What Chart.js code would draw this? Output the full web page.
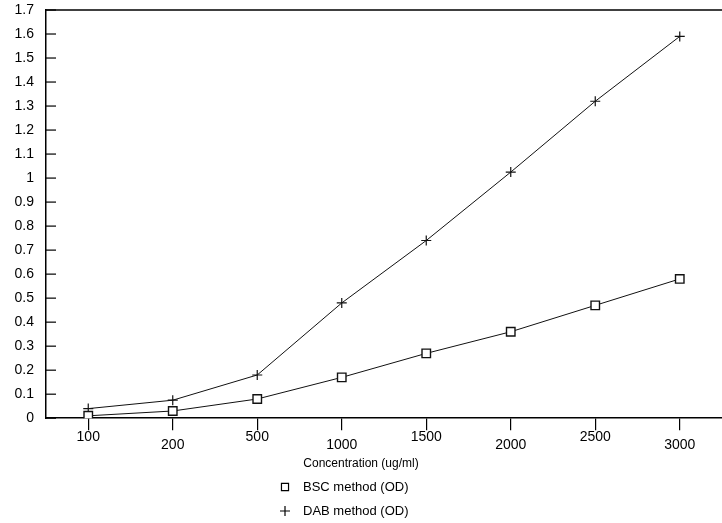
<!DOCTYPE html>
<html>
<head>
<meta charset="utf-8">
<script src="https://cdn.jsdelivr.net/npm/chart.js@4.4.0/dist/chart.umd.min.js"></script>
<style>
  html, body { margin: 0; padding: 0; background: #fff; }
</style>
</head>
<body>
<canvas id="chart" width="722" height="523"></canvas>
<script>
// data
const categories = ["100", "200", "500", "1000", "1500", "2000", "2500", "3000"];
const bscValues = [0.01, 0.03, 0.08, 0.17, 0.27, 0.36, 0.47, 0.58];
const dabValues = [0.04, 0.075, 0.18, 0.48, 0.74, 1.025, 1.32, 1.59];
const seriesLabels = ["BSC method (OD)", "DAB method (OD)"];
const xTitle = "Concentration (ug/ml)";
const yMin = 0, yMax = 1.7, yStep = 0.1;

const FONT = "'Liberation Sans', Arial, Helvetica, sans-serif";

// ticks inside the plot on the y axis + top frame line
const frame = {
  id: "frame",
  afterDraw(chart) {
    const ctx = chart.ctx;
    const area = chart.chartArea;
    const y = chart.scales.y;
    ctx.save();
    ctx.strokeStyle = "#000";
    ctx.lineWidth = 1.5;
    ctx.beginPath();
    ctx.moveTo(area.left, area.top);
    ctx.lineTo(area.right, area.top);
    ctx.stroke();
    ctx.lineWidth = 1.2;
    y.ticks.forEach(t => {
      const py = y.getPixelForValue(t.value);
      ctx.beginPath();
      ctx.moveTo(area.left, py);
      ctx.lineTo(area.left + 10, py);
      ctx.stroke();
    });
    ctx.restore();
  }
};

// legend stacked in two rows under the axis title
const legendBelow = {
  id: "legendBelow",
  afterDraw(chart) {
    const ctx = chart.ctx;
    ctx.save();
    ctx.font = "13px " + FONT;
    ctx.textBaseline = "middle";
    ctx.lineWidth = 1.2;
    chart.data.datasets.forEach((ds, i) => {
      const y = chart.height - 36 + i * 24;
      ctx.strokeStyle = "#000";
      ctx.fillStyle = "#fff";
      Chart.helpers.drawPoint(ctx, { pointStyle: ds.pointStyle, radius: 5, borderWidth: 1.3 }, 285, y);
      ctx.fillStyle = "#000";
      ctx.fillText(ds.label, 303, y);
    });
    ctx.restore();
  }
};

new Chart(document.getElementById("chart"), {
  type: "line",
  data: {
    labels: categories,
    datasets: [
      {
        label: seriesLabels[0],
        data: bscValues,
        borderColor: "#111",
        borderWidth: 1,
        pointStyle: "rect",
        pointRadius: 6,
        pointBorderWidth: 1.4,
        pointBackgroundColor: "#fff",
        pointBorderColor: "#111",
        tension: 0
      },
      {
        label: seriesLabels[1],
        data: dabValues,
        borderColor: "#111",
        borderWidth: 1,
        pointStyle: "cross",
        pointRadius: 5,
        pointBorderWidth: 1.2,
        pointBorderColor: "#111",
        tension: 0
      }
    ]
  },
  options: {
    responsive: false,
    animation: false,
    layout: { autoPadding: false, padding: { top: 10, right: 0, bottom: 50, left: 0 } },
    plugins: {
      legend: { display: false },
      tooltip: { enabled: false },
      title: {
        display: true,
        position: "bottom",
        text: xTitle,
        color: "#000",
        font: { family: FONT, size: 12, weight: "normal", lineHeight: 1.2 },
        padding: { top: 4.2, bottom: 1.8 }
      }
    },
    scales: {
      x: {
        offset: true,
        afterFit: s => { s.paddingLeft = 0; s.paddingRight = 0; },
        grid: { drawOnChartArea: false, drawTicks: true, tickLength: 12, color: "#000", lineWidth: 1.2, offset: false },
        border: { display: true, color: "#000", width: 1.5 },
        ticks: {
          color: "#000",
          padding: 2.8,
          maxRotation: 0,
          autoSkip: false,
          font: { family: FONT, size: 14, lineHeight: 0.6 },
          // every other label sits a little lower, as in the original
          callback: (v, i) => i % 2 ? ["", categories[i]] : categories[i]
        }
      },
      y: {
        min: yMin,
        max: yMax,
        afterFit: s => { s.width = 46; s.paddingTop = 0; s.paddingBottom = 0; },
        grid: { drawOnChartArea: false, drawTicks: false },
        border: { display: true, color: "#000", width: 1.5 },
        ticks: {
          stepSize: yStep,
          color: "#000",
          padding: 12,
          font: { family: FONT, size: 14 },
          callback: v => String(Number(v.toFixed(1)))
        }
      }
    }
  },
  plugins: [frame, legendBelow]
});
</script>
</body>
</html>
